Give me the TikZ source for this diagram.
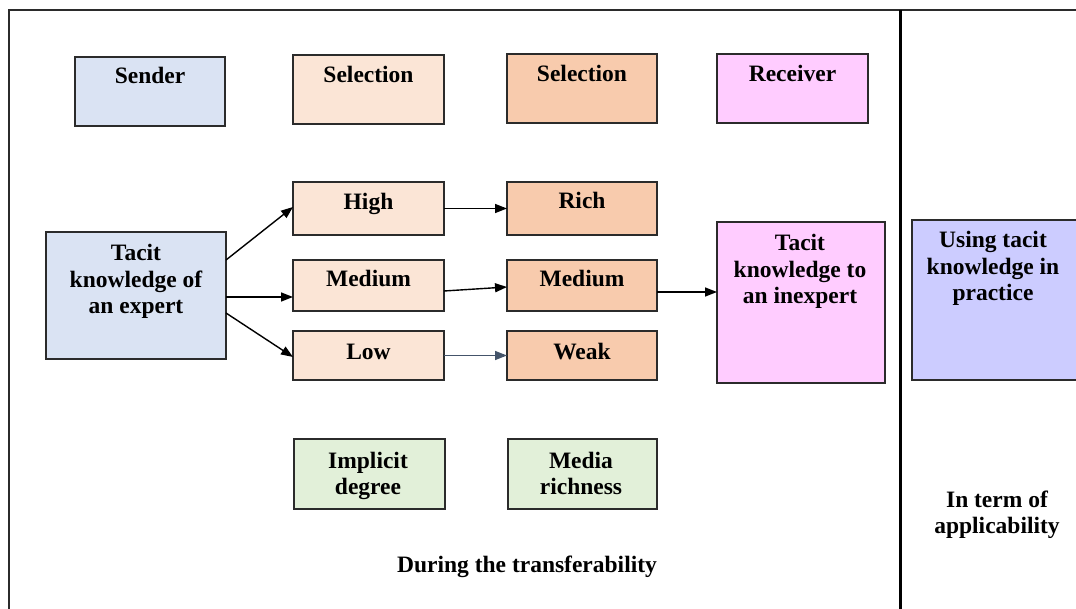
\documentclass[tikz,border=0pt]{standalone}
\usepackage{fontspec}
\setmainfont{Liberation Serif}
\usetikzlibrary{arrows.meta,calc}
\definecolor{cblue}{HTML}{DAE3F3}
\definecolor{cpeachl}{HTML}{FBE5D6}
\definecolor{cpeach}{HTML}{F8CBAD}
\definecolor{cpink}{HTML}{FFCCFF}
\definecolor{clav}{HTML}{CCCCFF}
\definecolor{cgreen}{HTML}{E2F0D9}
\definecolor{cline}{HTML}{2B2B2B}
\definecolor{cslate}{HTML}{44546A}
\newcommand{\lines}[1]{\begin{tabular}[t]{@{}c@{}}#1\end{tabular}}
\begin{document}
\begin{tikzpicture}[x=1pt,y=-1pt,
  box/.style={draw=cline, line width=1.5pt, inner sep=0pt, outer sep=0pt},
  txt/.style={inner sep=0pt, anchor=base, font=\fontsize{23.5}{26.5}\selectfont\bfseries},
  arr/.style={line width=1.4pt, -{Triangle[length=12pt,width=9pt]}},
  frame/.style={draw=cline, line width=1.5pt}]
\useasboundingbox (0,0) rectangle (1076,609);
% frame
\draw[frame] (9,609) -- (9,10) -- (1076,10);
\draw[line width=3pt, black] (900,10) -- (900,609);
% boxes
\node[box, fill=cblue, minimum width=150pt, minimum height=69pt] (sender) at (150,91.5) {};
\node[box, fill=cpeachl, minimum width=151pt, minimum height=69pt] (sel1) at (368.5,89.5) {};
\node[box, fill=cpeach, minimum width=150pt, minimum height=69pt] (sel2) at (582,88.5) {};
\node[box, fill=cpink, minimum width=151pt, minimum height=69pt] (receiver) at (792.5,88.5) {};
\node[box, fill=cpeachl, minimum width=151pt, minimum height=53pt] (high) at (368.5,208.5) {};
\node[box, fill=cpeach, minimum width=150pt, minimum height=53pt] (rich) at (582,208.5) {};
\node[box, fill=cpeachl, minimum width=151pt, minimum height=51pt] (med1) at (368.5,285.5) {};
\node[box, fill=cpeach, minimum width=150pt, minimum height=51pt] (med2) at (582,285.5) {};
\node[box, fill=cpeachl, minimum width=151pt, minimum height=49pt] (low) at (368.5,355.5) {};
\node[box, fill=cpeach, minimum width=150pt, minimum height=49pt] (weak) at (582,355.5) {};
\node[box, fill=cblue, minimum width=180pt, minimum height=127pt] (expert) at (136,295.5) {};
\node[box, fill=cpink, minimum width=168pt, minimum height=161pt] (inexpert) at (801,302.5) {};
\node[box, fill=clav, minimum width=173pt, minimum height=160pt] (using) at (998.5,300) {};
\node[box, fill=cgreen, minimum width=151pt, minimum height=70pt] (implicit) at (369.5,474) {};
\node[box, fill=cgreen, minimum width=149pt, minimum height=70pt] (media) at (582.5,474) {};
% texts
\node[txt] (tsender) at (150,84) {Sender};
\node[txt] (tsel1) at (368.5,83) {Selection};
\node[txt] (tsel2) at (582,82) {Selection};
\node[txt] (treceiver) at (792.5,82) {Receiver};
\node[txt] (thigh) at (368.5,210) {High};
\node[txt] (trich) at (582,209) {Rich};
\node[txt] (tmed1) at (368.5,287) {Medium};
\node[txt] (tmed2) at (582,287) {Medium};
\node[txt] (tlow) at (368.5,360) {Low};
\node[txt] (tweak) at (582,360) {Weak};
\node[txt] (texpert) at (136,261) {\lines{Tacit\\knowledge of\\an expert}};
\node[txt] (tinexpert) at (800,251) {\lines{Tacit\\knowledge to\\an inexpert}};
\node[txt] (tusing) at (993,248) {\lines{Using tacit\\knowledge in\\practice}};
\node[txt] (timplicit) at (368,468) {\lines{Implicit\\degree}};
\node[txt] (tmedia) at (581,468) {\lines{Media\\richness}};
\node[txt] (tduring) at (527,572) {During the transferability};
\node[txt] (tterm) at (997,507) {\lines{In term of\\applicability}};
% arrows
\draw[arr] ([yshift=-28pt]expert.north east) -- ([yshift=1.5pt]high.west);
\draw[arr] ([yshift=-1.5pt]expert.east) -- ([yshift=-11.5pt]med1.west);
\draw[arr] ([yshift=-81pt]expert.north east) -- ([yshift=-1.5pt]low.west);
\draw[arr] (high.east) -- (rich.west);
\draw[arr] ([yshift=-5.5pt]med1.east) -- ([yshift=-1.5pt]med2.west);
\draw[arr, draw=cslate, fill=cslate] (low.east) -- (weak.west);
\draw[arr] ([yshift=-6.5pt]med2.east) -- ([yshift=-6.5pt]med2.east -| inexpert.west);
\end{tikzpicture}
\end{document}
